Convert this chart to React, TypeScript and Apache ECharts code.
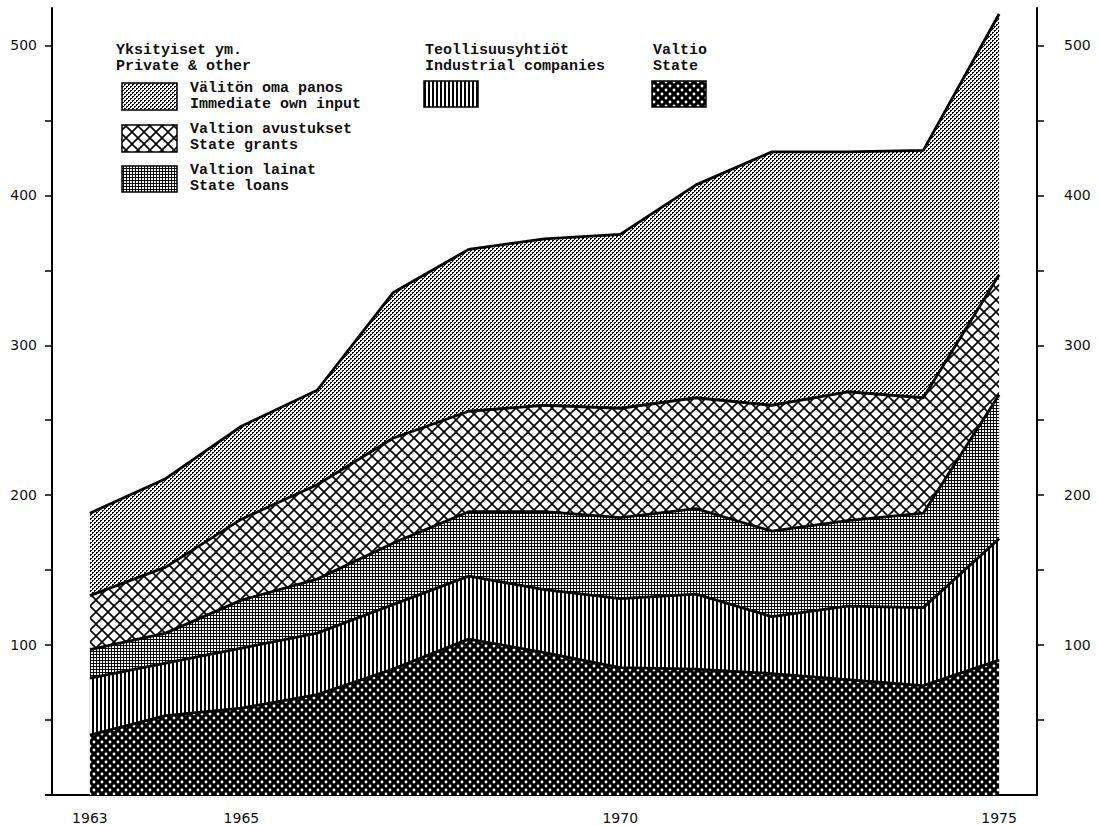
import React, { useEffect, useRef } from 'react';
import * as echarts from 'echarts';

// ---- data (per layer, stacked bottom -> top) ----
const years = ['1963', '1964', '1965', '1966', '1967', '1968', '1969', '1970', '1971', '1972', '1973', '1974', '1975'];
const xLabelYears = ['1963', '1965', '1970', '1975'];
const yTickValues = [50, 100, 150, 200, 250, 300, 350, 400, 450, 500];
const yLabelValues = [100, 200, 300, 400, 500];

const state = [40, 53, 58, 67, 84, 104, 95, 85, 84, 81, 77, 73, 90];
const industrialCompanies = [38, 35, 40, 41, 43, 42, 42, 46, 50, 38, 49, 52, 81];
const stateLoans = [19, 20, 32, 36, 41, 43, 52, 54, 57, 57, 57, 63, 96];
const stateGrants = [36, 44, 54, 63, 70, 67, 71, 73, 74, 84, 86, 77, 80];
const immediateOwnInput = [55, 59, 62, 63, 97, 108, 111, 116, 142, 169, 160, 165, 174];

// ---- legend texts ----
const headerPrivate = ['Yksityiset ym.', 'Private & other'];
const headerIndustrial = ['Teollisuusyhtiöt', 'Industrial companies'];
const headerState = ['Valtio', 'State'];
const labelOwnInput = ['Välitön oma panos', 'Immediate own input'];
const labelGrants = ['Valtion avustukset', 'State grants'];
const labelLoans = ['Valtion lainat', 'State loans'];

function makePattern(w: number, h: number, draw: (ctx: CanvasRenderingContext2D) => void) {
  const c = document.createElement('canvas');
  c.width = w;
  c.height = h;
  const ctx = c.getContext('2d') as CanvasRenderingContext2D;
  draw(ctx);
  return { image: c.toDataURL(), repeat: 'repeat', imageWidth: w, imageHeight: h } as any;
}

export default function App() {
  const ref = useRef<HTMLDivElement>(null);

  useEffect(() => {
    if (!ref.current) return;
    const chart = echarts.init(ref.current, null, { renderer: 'svg' });

    const pOwn = makePattern(4, 4, (ctx) => {
      ctx.fillStyle = '#fff';
      ctx.fillRect(0, 0, 4, 4);
      ctx.fillStyle = '#000';
      ctx.fillRect(0, 0, 2, 1);
      ctx.fillRect(0, 1, 1, 1);
      ctx.fillRect(2, 2, 2, 1);
      ctx.fillRect(2, 3, 1, 1);
    });
    const pLoans = makePattern(3, 3, (ctx) => {
      ctx.fillStyle = '#000';
      ctx.fillRect(0, 0, 3, 3);
      ctx.fillStyle = '#fff';
      ctx.fillRect(1, 1, 2, 2);
    });
    const pGrants = makePattern(12, 12, (ctx) => {
      ctx.fillStyle = '#fff';
      ctx.fillRect(0, 0, 12, 12);
      ctx.strokeStyle = '#000';
      ctx.lineWidth = 1.6;
      for (const dx of [-12, 0, 12]) {
        ctx.beginPath();
        ctx.moveTo(dx, 0);
        ctx.lineTo(dx + 12, 12);
        ctx.moveTo(dx + 12, 0);
        ctx.lineTo(dx, 12);
        ctx.stroke();
      }
    });
    const pIndustrial = makePattern(4, 4, (ctx) => {
      ctx.fillStyle = '#fff';
      ctx.fillRect(0, 0, 4, 4);
      ctx.fillStyle = '#000';
      ctx.fillRect(0, 0, 2, 4);
    });
    const pState = makePattern(8, 8, (ctx) => {
      ctx.fillStyle = '#000';
      ctx.fillRect(0, 0, 8, 8);
      ctx.fillStyle = '#fff';
      for (const [cx, cy] of [[2, 2], [6, 6]]) {
        ctx.beginPath();
        ctx.arc(cx, cy, 1.4, 0, Math.PI * 2);
        ctx.fill();
      }
    });

    const layers = [
      { name: 'Valtio / State', data: state, pattern: pState },
      { name: 'Teollisuusyhtiöt / Industrial companies', data: industrialCompanies, pattern: pIndustrial },
      { name: 'Valtion lainat / State loans', data: stateLoans, pattern: pLoans },
      { name: 'Valtion avustukset / State grants', data: stateGrants, pattern: pGrants },
      { name: 'Välitön oma panos / Immediate own input', data: immediateOwnInput, pattern: pOwn },
    ];

    const monoFont = { fontFamily: '"Liberation Mono", "DejaVu Sans Mono", monospace', fontSize: 15, fontWeight: 'bold' };
    const txt = (x: number, y: number, text: string) => ({
      type: 'text',
      x,
      y,
      silent: true,
      style: { text, fill: '#111', ...monoFont, textVerticalAlign: 'middle', verticalAlign: 'middle' },
    });
    const swatch = (x: number, y: number, w: number, h: number, fill: any) => ({
      type: 'rect',
      silent: true,
      shape: { x, y, width: w, height: h },
      style: { fill, stroke: '#000', lineWidth: 1.5 },
    });

    const graphic: any[] = [
      { type: 'line', silent: true, shape: { x1: 45, y1: 795, x2: 53, y2: 795 }, style: { stroke: '#000', lineWidth: 2 } },
      txt(116, 50, headerPrivate[0]),
      txt(116, 66, headerPrivate[1]),
      swatch(122, 83, 55, 27, pOwn),
      txt(190, 88, labelOwnInput[0]),
      txt(190, 104, labelOwnInput[1]),
      swatch(122, 125, 55, 27, pGrants),
      txt(190, 129, labelGrants[0]),
      txt(190, 145, labelGrants[1]),
      swatch(122, 166, 55, 26, pLoans),
      txt(190, 170, labelLoans[0]),
      txt(190, 186, labelLoans[1]),
      txt(425, 50, headerIndustrial[0]),
      txt(425, 66, headerIndustrial[1]),
      swatch(424, 81, 54, 26, pIndustrial),
      txt(653, 50, headerState[0]),
      txt(653, 66, headerState[1]),
      swatch(652, 81, 54, 26, pState),
    ];

    const numFont = { fontFamily: '"DejaVu Sans", sans-serif', fontSize: 14, color: '#111' };

    const yAxisBase = {
      type: 'value',
      min: 0,
      max: 525,
      splitLine: { show: false },
      axisLine: { show: true, lineStyle: { color: '#000', width: 2 } },
      axisTick: { show: true, length: 7, customValues: yTickValues, lineStyle: { color: '#000', width: 1.5 } },
    };

    chart.setOption({
      animation: false,
      backgroundColor: '#fff',
      grid: { left: 52, right: 61, top: 8, bottom: 31 },
      xAxis: {
        type: 'category',
        data: years,
        boundaryGap: true,
        axisLine: { lineStyle: { color: '#000', width: 2 } },
        axisTick: { alignWithLabel: true, interval: 0, length: 7, lineStyle: { color: '#000', width: 1.5 } },
        axisLabel: {
          interval: 0,
          margin: 16,
          ...numFont,
          formatter: (v: string) => (xLabelYears.includes(v) ? v : ''),
        },
        splitLine: { show: false },
      },
      yAxis: [
        {
          ...yAxisBase,
          position: 'left',
          axisLabel: { ...numFont, margin: 15, customValues: yLabelValues },
        },
        {
          ...yAxisBase,
          position: 'right',
          axisLabel: { ...numFont, margin: 27, align: 'left', customValues: yLabelValues },
        },
      ],
      graphic,
      series: layers.map((l, i) => ({
        name: l.name,
        type: 'line',
        stack: 'total',
        data: l.data,
        yAxisIndex: 0,
        symbol: 'none',
        showSymbol: false,
        silent: true,
        z: 10 - i,
        emphasis: { disabled: true },
        lineStyle: { color: '#000', width: 2.8 },
        itemStyle: { color: '#000' },
        areaStyle: { color: l.pattern, opacity: 1 },
      })),
    });

    return () => chart.dispose();
  }, []);

  return (
    <div
      ref={ref}
      style={{ position: 'fixed', left: 0, top: 0, width: 1098, height: 826, background: '#fff' }}
    />
  );
}
